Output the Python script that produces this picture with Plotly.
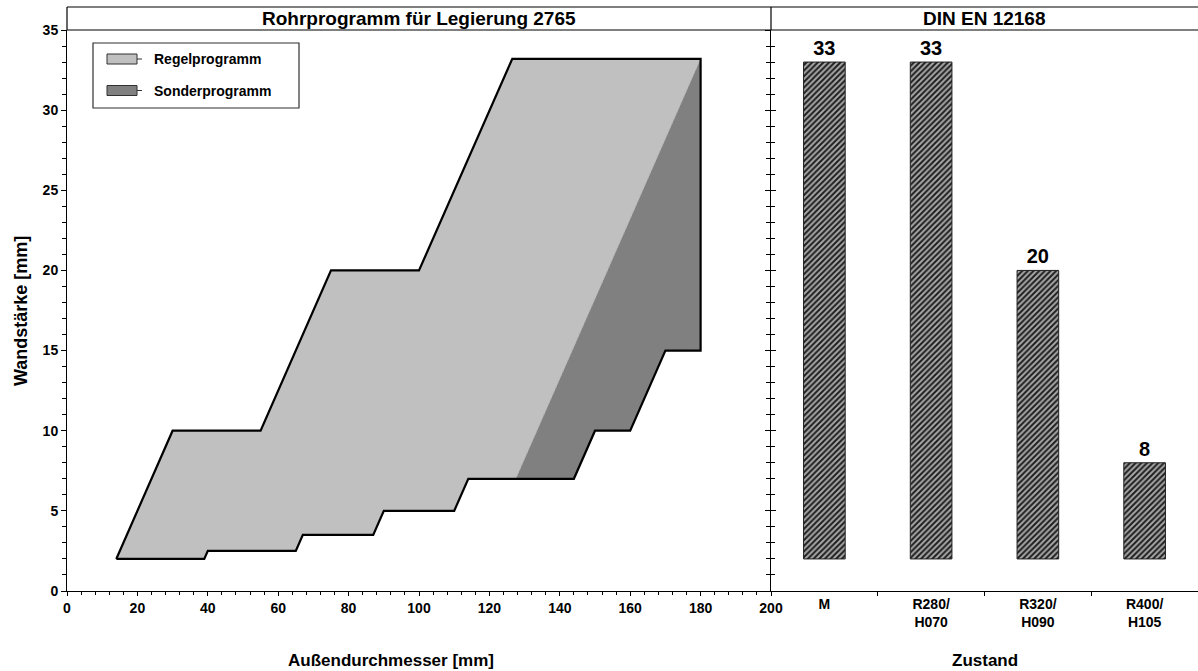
import plotly.graph_objects as go

# ---------------- data ----------------
# Regelprogramm polygon (outer diameter [mm], wall thickness [mm])
regel_x = [14, 30, 55, 75, 100, 126.5, 180, 127.5, 114, 110, 90, 87, 67, 65, 40, 39, 14]
regel_y = [2, 10, 10, 20, 20, 33.2, 33.2, 7, 7, 5, 5, 3.5, 3.5, 2.5, 2.5, 2, 2]

# Sonderprogramm polygon
sonder_x = [127.5, 144, 150, 160, 170, 180, 180, 127.5]
sonder_y = [7, 7, 10, 10, 15, 15, 33.2, 7]

# DIN EN 12168 – max wall thickness per temper
zustand = ["M", "R280/<br>H070", "R320/<br>H090", "R400/<br>H105"]
wand_max = [33, 33, 20, 8]
wand_min = 2

x_ticks_left = [0, 20, 40, 60, 80, 100, 120, 140, 160, 180, 200]
y_ticks = [0, 5, 10, 15, 20, 25, 30, 35]

legend_names = ["Regelprogramm", "Sonderprogramm"]
legend_colors = ["#c0c0c0", "#808080"]

# outer boundary (union of both areas)
outline_x = regel_x[:7] + sonder_x[5::-1] + regel_x[8:]
outline_y = regel_y[:7] + sonder_y[5::-1] + regel_y[8:]

FONT = "Liberation Sans, Arial, sans-serif"
W, H = 1198, 671
xl0, xl1, xr1 = 67 / W, 771 / W, 1.0
yb, yt = (H - 591) / H, (H - 30) / H
ytop = (H - 7) / H


def px(x):
    return x / W


def py(y):
    return (H - y) / H


fig = go.Figure()

# filled areas
fig.add_trace(go.Scatter(x=regel_x, y=regel_y, fill="toself", fillcolor=legend_colors[0],
                         mode="lines", line=dict(width=0), showlegend=False,
                         hoverinfo="skip", xaxis="x", yaxis="y"))
fig.add_trace(go.Scatter(x=sonder_x, y=sonder_y, fill="toself", fillcolor=legend_colors[1],
                         mode="lines", line=dict(width=0.8, color="#a8a8a8", dash="dot"),
                         showlegend=False, hoverinfo="skip", xaxis="x", yaxis="y"))
fig.add_trace(go.Scatter(x=outline_x, y=outline_y, mode="lines",
                         line=dict(color="black", width=2.2), showlegend=False,
                         hoverinfo="skip", xaxis="x", yaxis="y"))

# bars
fig.add_trace(go.Bar(
    x=zustand, y=[v - wand_min for v in wand_max], base=wand_min,
    text=[str(v) for v in wand_max], textposition="outside",
    textfont=dict(family=FONT, size=20, color="black", weight="bold"),
    width=0.39,
    marker=dict(color="#a0a0a0",
                line=dict(color="#202020", width=1),
                pattern=dict(shape="/", fgcolor="#1e1e1e", bgcolor="#a8a8a8",
                             size=4, solidity=0.5, fillmode="replace")),
    cliponaxis=False, showlegend=False, hoverinfo="skip",
    xaxis="x2", yaxis="y2"))

# dummy for outer tick axis on divider
fig.add_trace(go.Scatter(x=[None], y=[None], xaxis="x2", yaxis="y3",
                         showlegend=False, hoverinfo="skip"))

tickfont = dict(family=FONT, size=14, color="black", weight="bold")

fig.update_layout(
    template="none",
    width=W, height=H,
    margin=dict(l=0, r=0, t=0, b=0, pad=0),
    paper_bgcolor="white", plot_bgcolor="white",
    font=dict(family=FONT, color="black"),
    showlegend=False,
    xaxis=dict(domain=[xl0, xl1], range=[0, 200], tickvals=x_ticks_left,
               ticks="outside", ticklen=4, tickcolor="black", automargin=False,
               minor=dict(dtick=4, ticks="outside", ticklen=3, tickcolor="black"),
               showline=True, linecolor="black", linewidth=1,
               showgrid=False, zeroline=False, tickfont=tickfont,
               anchor="y", fixedrange=True),
    yaxis=dict(domain=[yb, yt], range=[0, 35], tickvals=y_ticks,
               ticks="outside", ticklen=5, tickcolor="black", automargin=False,
               minor=dict(dtick=1, ticks="outside", ticklen=4, tickcolor="black"),
               showline=True, linecolor="black", linewidth=1,
               showgrid=False, zeroline=False, tickfont=tickfont,
               anchor="x", fixedrange=True),
    xaxis2=dict(domain=[xl1, xr1], type="category", range=[-0.5, 3.5],
                categoryorder="array", categoryarray=zustand, automargin=False,
                tickson="boundaries", ticks="outside", ticklen=4, tickcolor="black",
                showline=True, linecolor="black", linewidth=1,
                showgrid=False, zeroline=False, tickfont=tickfont,
                anchor="y2", fixedrange=True),
    yaxis2=dict(domain=[yb, yt], range=[0, 35], tickvals=y_ticks,
                ticks="inside", ticklen=5, tickcolor="black", automargin=False,
                minor=dict(dtick=1, ticks="inside", ticklen=4, tickcolor="black"),
                showline=True, linecolor="black", linewidth=1,
                showgrid=False, zeroline=False, showticklabels=False,
                anchor="x2", fixedrange=True),
    yaxis3=dict(overlaying="y2", anchor="x2", side="left", range=[0, 35],
                tickvals=y_ticks, ticks="outside", ticklen=5, tickcolor="black",
                minor=dict(dtick=1, ticks="outside", ticklen=4, tickcolor="black"),
                showline=False, showgrid=False, zeroline=False, automargin=False,
                showticklabels=False, fixedrange=True),
)

line = dict(color="black", width=1.2)
fig.add_shape(type="line", xref="paper", yref="paper", x0=xl0, x1=xr1, y0=ytop, y1=ytop, line=line)
fig.add_shape(type="line", xref="paper", yref="paper", x0=xl0, x1=xr1, y0=yt, y1=yt, line=line)
fig.add_shape(type="line", xref="paper", yref="paper", x0=xl0, x1=xl0, y0=yt, y1=ytop, line=line)
fig.add_shape(type="line", xref="paper", yref="paper", x0=xl1, x1=xl1, y0=yt, y1=ytop, line=line)

# legend box (drawn)
fig.add_shape(type="rect", xref="paper", yref="paper", x0=px(93), x1=px(299),
              y0=py(108), y1=py(43), line=dict(color="#303030", width=1.2),
              fillcolor="white")
for i, (name, col) in enumerate(zip(legend_names, legend_colors)):
    cy = 59 + i * 31.5
    fig.add_shape(type="rect", xref="paper", yref="paper", x0=px(107), x1=px(137),
                  y0=py(cy + 5), y1=py(cy - 5), line=dict(color="#303030", width=1),
                  fillcolor=col)
    fig.add_shape(type="line", xref="paper", yref="paper", x0=px(137), x1=px(142),
                  y0=py(cy), y1=py(cy), line=dict(color="#303030", width=1))
    fig.add_annotation(text=name, xref="paper", yref="paper", x=px(152), y=py(cy),
                       xanchor="left", yanchor="middle", showarrow=False,
                       font=dict(family=FONT, size=14, color="black", weight="bold"))

title_font = dict(family=FONT, size=19, color="black", weight="bold")
ax_font = dict(family=FONT, size=17, color="black", weight="bold")
ymid_head = (ytop + yt) / 2
fig.add_annotation(text="Rohrprogramm für Legierung 2765", xref="paper", yref="paper",
                   x=(xl0 + xl1) / 2, y=ymid_head, showarrow=False, font=title_font,
                   xanchor="center", yanchor="middle")
fig.add_annotation(text="DIN EN 12168", xref="paper", yref="paper",
                   x=(xl1 + xr1) / 2, y=ymid_head, showarrow=False, font=title_font,
                   xanchor="center", yanchor="middle")
fig.add_annotation(text="Wandstärke [mm]", xref="paper", yref="paper",
                   x=px(21), y=py(311), textangle=-90, showarrow=False,
                   font=dict(family=FONT, size=18, color="black", weight="bold"),
                   xanchor="center", yanchor="middle")
fig.add_annotation(text="Außendurchmesser [mm]", xref="paper", yref="paper",
                   x=px(391), y=py(660), showarrow=False, font=ax_font,
                   xanchor="center", yanchor="middle")
fig.add_annotation(text="Zustand", xref="paper", yref="paper",
                   x=px(985), y=py(660), showarrow=False, font=ax_font,
                   xanchor="center", yanchor="middle")

fig.write_html("out.html",
               post_script="document.documentElement.style.margin='0';document.body.style.margin='0';",
               config={"displayModeBar": False})
